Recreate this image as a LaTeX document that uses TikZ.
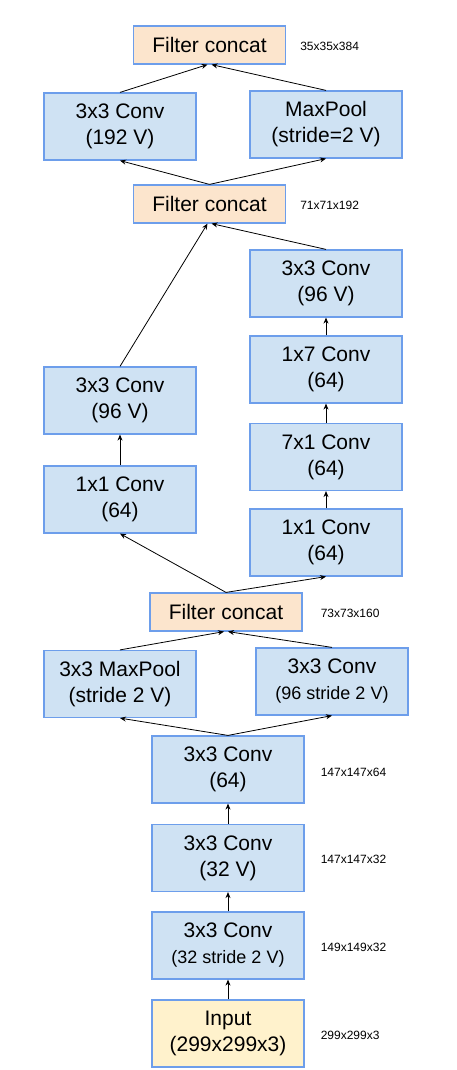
\documentclass[tikz,border=0pt]{standalone}
\usepackage{fontspec}
\setmainfont{Liberation Sans}
\usetikzlibrary{arrows.meta}
\definecolor{layerBlue}{RGB}{207,226,243}
\definecolor{layerEdge}{RGB}{109,158,235}
\definecolor{concatPeach}{RGB}{252,229,205}
\definecolor{inputCream}{RGB}{255,242,204}
\newcommand{\SmallLine}[1]{{\fontsize{18}{22}\selectfont #1}}
\tikzset{
  layer/.style={draw=layerEdge,fill=layerBlue,line width=1.2pt,minimum width=152pt,minimum height=67pt,inner sep=0pt,align=center,font=\fontsize{21}{26}\selectfont},
  concat/.style={layer,fill=concatPeach,minimum height=38pt},
  inlayer/.style={layer,fill=inputCream},
  dims/.style={anchor=west,inner sep=0pt,font=\fontsize{12}{14}\selectfont},
  flow/.style={-{Stealth[length=6pt,width=5pt]},line width=0.8pt}
}

\begin{document}
\begin{tikzpicture}[x=1pt,y=-1pt]
\useasboundingbox (0,0) rectangle (456,1070);
\node[concat] (concatA) at (209.5,45) {Filter concat};
\node[layer] (convB) at (120,126.5) {3x3 Conv\\(192 V)};
\node[layer] (poolB) at (326,124.5) {MaxPool\\(stride=2 V)};
\node[concat] (concatB) at (209.5,204) {Filter concat};
\node[layer] (convRa) at (326,283.5) {3x3 Conv\\(96 V)};
\node[layer] (convRb) at (326,369.5) {1x7 Conv\\(64)};
\node[layer] (convRc) at (326,457) {7x1 Conv\\(64)};
\node[layer] (convRd) at (326,542.5) {1x1 Conv\\(64)};
\node[layer] (convLa) at (120,400.5) {3x3 Conv\\(96 V)};
\node[layer] (convLb) at (120,499.5) {1x1 Conv\\(64)};
\node[concat] (concatC) at (226,612) {Filter concat};
\node[layer] (poolD) at (120,684) {3x3 MaxPool\\(stride 2 V)};
\node[layer] (convD) at (332,681.5) {3x3 Conv\\\SmallLine{(96 stride 2 V)}};
\node[layer] (convEa) at (228,769.5) {3x3 Conv\\(64)};
\node[layer] (convEb) at (228,858) {3x3 Conv\\(32 V)};
\node[layer] (convEc) at (228,945.5) {3x3 Conv\\\SmallLine{(32 stride 2 V)}};
\node[inlayer] (inputF) at (228,1033.5) {Input\\(299x299x3)};

\node[dims] (dimA) at ([xshift=14pt,yshift=-1pt]concatA.east) {35x35x384};
\node[dims] (dimB) at ([xshift=14pt,yshift=-1pt]concatB.east) {71x71x192};
\node[dims] (dimC) at ([xshift=18pt,yshift=-1pt]concatC.east) {73x73x160};
\node[dims] (dimEa) at ([xshift=16pt,yshift=-3pt]convEa.east) {147x147x64};
\node[dims] (dimEb) at ([xshift=16pt,yshift=-1pt]convEb.east) {147x147x32};
\node[dims] (dimEc) at ([xshift=16pt,yshift=-2pt]convEc.east) {149x149x32};
\node[dims] (dimF) at ([xshift=16pt,yshift=-2pt]inputF.east) {299x299x3};

\draw[flow] (inputF.north) -- (convEc.south);
\draw[flow] (convEc.north) -- (convEb.south);
\draw[flow] (convEb.north) -- (convEa.south);
\draw[flow] (convEa.north) -- (poolD.south);
\draw[flow] (convEa.north) -- (convD.south);
\draw[flow] (poolD.north) -- ([xshift=-2pt]concatC.south);
\draw[flow] (convD.north) -- ([xshift=2pt]concatC.south);
\draw[flow] (concatC.north) -- (convLb.south);
\draw[flow] (concatC.north) -- (convRd.south);
\draw[flow] (convLb.north) -- (convLa.south);
\draw[flow] (convRd.north) -- (convRc.south);
\draw[flow] (convRc.north) -- (convRb.south);
\draw[flow] (convRb.north) -- (convRa.south);
\draw[flow] (convLa.north) -- ([xshift=-2pt]concatB.south);
\draw[flow] (convRa.north) -- ([xshift=2pt]concatB.south);
\draw[flow] (concatB.north) -- (convB.south);
\draw[flow] (concatB.north) -- (poolB.south);
\draw[flow] (convB.north) -- ([xshift=-2pt]concatA.south);
\draw[flow] (poolB.north) -- ([xshift=2pt]concatA.south);
\end{tikzpicture}
\end{document}
